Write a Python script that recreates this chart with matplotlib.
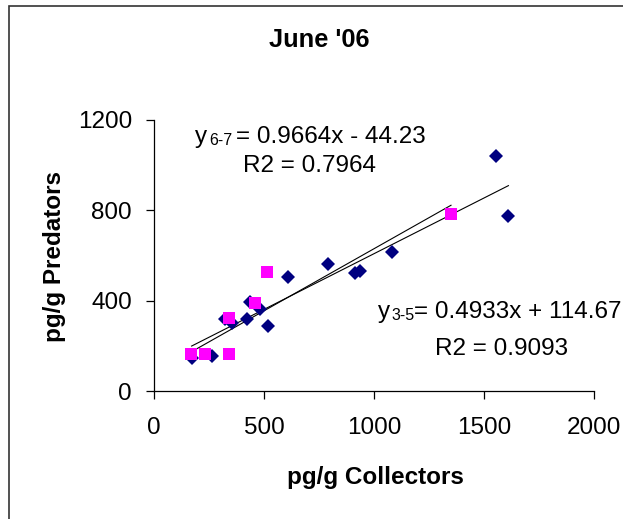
import matplotlib
matplotlib.use("Agg")
import matplotlib.pyplot as plt
from matplotlib.patches import Rectangle
import numpy as np

plt.rcParams['font.family'] = ['Liberation Sans', 'DejaVu Sans']

# ---- data ----
title = "June '06"
x_label = "pg/g Collectors"
y_label = "pg/g Predators"

# sites 3-5 (navy diamonds)
x_35 = [1554, 1611, 1080, 936, 914, 792, 608, 519, 482, 436, 421, 353, 323, 265, 171]
y_35 = [1041, 775, 617, 531, 524, 561, 506, 289, 362, 393, 317, 303, 319, 155, 145]
# sites 6-7 (magenta squares)
x_67 = [1350, 512, 459, 341, 341, 232, 168]
y_67 = [782, 528, 388, 322, 162, 162, 162]

# trend lines (slope, intercept) as drawn
trend_35 = (0.4933, 114.67)
trend_67 = (0.55, 80.0)

x_ticks = [0, 500, 1000, 1500, 2000]
y_ticks = [0, 400, 800, 1200]

W, H = 623, 519
fig = plt.figure(figsize=(W / 100, H / 100), dpi=100)
fig.patch.set_facecolor('white')

def fx(px):
    return px / W

def fy(py):
    return 1 - py / H

# chart border (left and top visible)
fig.add_artist(Rectangle((fx(9), fy(530)), fx(640 - 9), fy(6) - fy(530),
                         transform=fig.transFigure, fill=False,
                         edgecolor='#333333', linewidth=1.2))

ax = fig.add_axes([fx(154), fy(391), fx(594) - fx(154), fy(120) - fy(391)])
ax.set_xlim(0, 2000)
ax.set_ylim(0, 1200)
ax.set_facecolor('white')
for s in ['top', 'right']:
    ax.spines[s].set_visible(False)
for s in ['left', 'bottom']:
    ax.spines[s].set_color('black')
    ax.spines[s].set_linewidth(0.9)

ax.set_xticks(x_ticks)
ax.set_yticks(y_ticks)
ax.set_xticklabels([str(v) for v in x_ticks])
ax.set_yticklabels([str(v) for v in y_ticks])
ax.tick_params(axis='both', direction='out', length=5.8, width=0.9,
               labelsize=17.5, colors='black')
ax.tick_params(axis='x', pad=13)
ax.tick_params(axis='y', pad=10)

# trend lines
for xs, (m, b) in [(x_35, trend_35), (x_67, trend_67)]:
    xr = np.array([min(xs), max(xs)])
    ax.plot(xr, m * xr + b, color='black', linewidth=0.8, zorder=2)

ax.plot(x_35, y_35, linestyle='none', marker='D', markersize=7.6,
        markerfacecolor='#000080', markeredgewidth=0, zorder=3, clip_on=False)
ax.plot(x_67, y_67, linestyle='none', marker='s', markersize=8.8,
        markerfacecolor='#FF00FF', markeredgewidth=0, zorder=4, clip_on=False)

# titles
fig.text(fx(319), fy(47.3), title, ha='center', va='baseline',
         fontsize=18.3, fontweight='bold')
fig.text(fx(375), fy(477.5), x_label, ha='center', va='center',
         fontsize=17.5, fontweight='bold')
fig.text(fx(55), fy(256), y_label, ha='center', va='center',
         fontsize=17.5, fontweight='bold', rotation=90)

# equations
FS = 17.5
SFS = 11.5
def eq(x_y, x_sub, x_rest, base, sub, rest, sub_drop=1.5):
    fig.text(fx(x_y), fy(base), "y", ha='left', va='baseline', fontsize=FS)
    fig.text(fx(x_sub), fy(base + sub_drop), sub, ha='left', va='baseline', fontsize=SFS)
    fig.text(fx(x_rest), fy(base), rest, ha='left', va='baseline', fontsize=FS)

eq(195, 209.5, 236.5, 143.3, "6-7", "= 0.9664x - 44.23")
fig.text(fx(243.3), fy(171.7), "R2 = 0.7964", ha='left', va='baseline', fontsize=FS)

eq(378.3, 391.5, 414.5, 318.3, "3-5", "= 0.4933x + 114.67")
fig.text(fx(435), fy(355), "R2 = 0.9093", ha='left', va='baseline', fontsize=FS)

fig.savefig('out.png', dpi=100)
